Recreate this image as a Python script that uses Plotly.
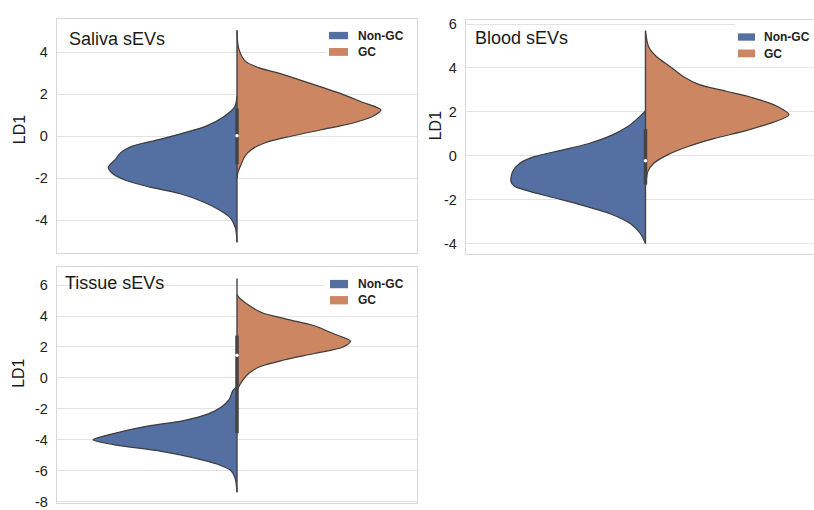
import plotly.graph_objects as go

W, H = 814, 510

# ---------------- data ----------------
groups = ["Non-GC", "GC"]
panel_titles = ["Saliva sEVs", "Blood sEVs", "Tissue sEVs"]

# Saliva sEVs : density half-widths along LD1
saliva_nongc_y = [1.9, 1.4, 0.93, 0.47, 0.16, -0.16, -0.47, -0.78, -1.09, -1.48, -1.79, -2.1, -2.41, -2.73, -3.12, -3.5, -3.89, -4.36, -5.05]
saliva_nongc_w = [0, 0.013, 0.074, 0.175, 0.295, 0.434, 0.58, 0.646, 0.674, 0.715, 0.69, 0.62, 0.49, 0.32, 0.19, 0.10, 0.037, 0.009, 0]
saliva_gc_y = [5.0, 4.2, 3.58, 3.27, 2.96, 2.65, 2.34, 2.02, 1.64, 1.25, 0.93, 0.62, 0.31, 0.0, -0.31, -0.62, -0.93, -1.32, -1.71, -2.0]
saliva_gc_w = [0, 0.009, 0.046, 0.12, 0.25, 0.36, 0.47, 0.58, 0.69, 0.80, 0.75, 0.64, 0.47, 0.30, 0.157, 0.083, 0.046, 0.024, 0.006, 0]
saliva_box = [-1.32, 1.32]
saliva_median = 0.02
saliva_whisker = [-5.05, 5.06]

# Blood sEVs
blood_nongc_y = [2.04, 1.82, 1.37, 0.93, 0.55, 0.25, -0.04, -0.34, -0.72, -1.16, -1.39, -1.61, -1.91, -2.28, -2.66, -3.1, -3.55, -4.0]
blood_nongc_w = [0, 0.028, 0.092, 0.19, 0.32, 0.47, 0.62, 0.70, 0.74, 0.75, 0.73, 0.65, 0.51, 0.34, 0.19, 0.083, 0.028, 0]
blood_gc_y = [5.7, 4.96, 4.5, 4.06, 3.61, 3.24, 2.94, 2.64, 2.27, 1.87, 1.52, 1.15, 0.78, 0.4, 0.03, -0.34, -0.72, -1.16, -1.4]
blood_gc_w = [0, 0.018, 0.064, 0.138, 0.21, 0.30, 0.45, 0.60, 0.73, 0.80, 0.71, 0.56, 0.38, 0.23, 0.12, 0.046, 0.013, 0.004, 0]
blood_box = [-1.31, 1.22]
blood_median = -0.22
blood_whisker = [-4.0, 5.7]

# Tissue sEVs
tissue_nongc_y = [-0.55, -0.84, -1.37, -1.89, -2.32, -2.74, -3.16, -3.58, -4.0, -4.32, -4.74, -5.16, -5.58, -6.0, -6.5, -7.35]
tissue_nongc_w = [0, 0.024, 0.042, 0.089, 0.16, 0.29, 0.52, 0.68, 0.80, 0.68, 0.42, 0.24, 0.107, 0.033, 0.01, 0]
tissue_gc_y = [5.4, 5.26, 4.74, 4.21, 3.79, 3.37, 2.84, 2.38, 2.0, 1.58, 1.16, 0.74, 0.32, -0.21, -0.74, -0.95]
tissue_gc_w = [0, 0.007, 0.06, 0.14, 0.28, 0.43, 0.54, 0.63, 0.59, 0.43, 0.26, 0.13, 0.068, 0.028, 0.004, 0]
tissue_box = [-3.58, 2.74]
tissue_median = 1.47
tissue_whisker = [-7.4, 6.42]

saliva_ticks = [-4, -2, 0, 2, 4]
blood_ticks = [-4, -2, 0, 2, 4, 6]
tissue_ticks = [-8, -6, -4, -2, 0, 2, 4, 6]

# ---------------- style ----------------
BLUE = "#5470a2"
ORANGE = "#cc8661"
EDGE = "#3c3c3c"
BOXC = "#444444"
GRID = "#e2e2e2"
FONT = "Arial, Liberation Sans, sans-serif"

def px(x):
    return x / W

def py(y):
    return 1 - y / H

panels = [
    dict(ax="", nongc=(saliva_nongc_y, saliva_nongc_w), gc=(saliva_gc_y, saliva_gc_w),
         box=saliva_box, med=saliva_median, wh=saliva_whisker, ticks=saliva_ticks,
         xdom=[px(57), px(417)], ydom=[py(254), py(15)], xr=[-1, 1], yr=[-5.54, 5.60],
         mirror_y=True, title_xy=(67, 36), ld_xy=(19, 129),
         leg_box=(326, 18, 417, 60), leg_pat=[(329, 28.5, 348, 36), (329, 45, 348, 53)],
         leg_txt=[(356, 32.5), (356, 49)]),
    dict(ax="2", nongc=(blood_nongc_y, blood_nongc_w), gc=(blood_gc_y, blood_gc_w),
         box=blood_box, med=blood_median, wh=blood_whisker, ticks=blood_ticks,
         xdom=[px(466), 1.0], ydom=[py(255), py(16.7)], xr=[-1, 0.939], yr=[-4.45, 6.17],
         mirror_y=False, title_xy=(473, 35), ld_xy=(435, 124),
         leg_box=(735, 18, 814, 60), leg_pat=[(738, 30, 755, 37.5), (738, 46.5, 755, 54.5)],
         leg_txt=[(762, 34), (762, 51)]),
    dict(ax="3", nongc=(tissue_nongc_y, tissue_nongc_w), gc=(tissue_gc_y, tissue_gc_w),
         box=tissue_box, med=tissue_median, wh=tissue_whisker, ticks=tissue_ticks,
         xdom=[px(57), px(417)], ydom=[0.0, py(268.3)], xr=[-1, 1], yr=[-8.08, 7.2],
         mirror_y=True, title_xy=(63, 285), ld_xy=(19, 378),
         leg_box=(324, 272, 417, 314), leg_pat=[(330, 282, 348, 290.5), (330, 298.5, 348, 307)],
         leg_txt=[(356, 286), (356, 303)]),
]

fig = go.Figure()
shapes = []
annotations = []

for i, p in enumerate(panels):
    xa = "x" + p["ax"]
    ya = "y" + p["ax"]
    ny, nw = p["nongc"]
    gy, gw = p["gc"]
    # left half (Non-GC)
    fig.add_trace(go.Scatter(x=[-w for w in nw], y=ny, xaxis=xa, yaxis=ya, mode="lines",
                             fill="toself", fillcolor=BLUE,
                             line=dict(color=EDGE, width=1.2, shape="spline", smoothing=0.8),
                             name=groups[0], showlegend=False, hoverinfo="skip"))
    # right half (GC)
    fig.add_trace(go.Scatter(x=list(gw), y=gy, xaxis=xa, yaxis=ya, mode="lines",
                             fill="toself", fillcolor=ORANGE,
                             line=dict(color=EDGE, width=1.2, shape="spline", smoothing=0.8),
                             name=groups[1], showlegend=False, hoverinfo="skip"))
    # whisker
    fig.add_trace(go.Scatter(x=[0, 0], y=p["wh"], xaxis=xa, yaxis=ya, mode="lines",
                             line=dict(color=BOXC, width=1.4), showlegend=False, hoverinfo="skip"))
    # box
    fig.add_trace(go.Scatter(x=[0, 0], y=p["box"], xaxis=xa, yaxis=ya, mode="lines",
                             line=dict(color=BOXC, width=3.5), showlegend=False, hoverinfo="skip"))
    # median
    fig.add_trace(go.Scatter(x=[0], y=[p["med"]], xaxis=xa, yaxis=ya, mode="markers",
                             marker=dict(color="white", size=3.5, line=dict(width=0)),
                             showlegend=False, hoverinfo="skip"))

    fig.layout["xaxis" + p["ax"]] = dict(showgrid=False, zeroline=False, showline=True,
                                         linecolor="#d8d8d8", linewidth=1.3, ticks="",
                                         domain=p["xdom"], range=p["xr"], anchor=ya,
                                         showticklabels=False, mirror=True, fixedrange=True)
    fig.layout["yaxis" + p["ax"]] = dict(showgrid=True, gridcolor=GRID, gridwidth=1.2,
                                         zeroline=False, showline=True, linecolor="#d8d8d8",
                                         linewidth=1.3, ticks="", mirror=p["mirror_y"],
                                         domain=p["ydom"], range=p["yr"], anchor=xa,
                                         tickvals=p["ticks"], ticktext=[str(t) for t in p["ticks"]],
                                         tickfont=dict(family=FONT, size=14.5, color="#222222"),
                                         ticklabelstandoff=5, ticklabeloverflow="allow",
                                         fixedrange=True)

    # legend (white box over grid, patches and labels)
    x0, y0, x1, y1 = p["leg_box"]
    shapes.append(dict(type="rect", xref="paper", yref="paper", x0=px(x0), x1=px(x1),
                       y0=py(y1), y1=py(y0), fillcolor="white", line=dict(width=0), layer="above"))
    for (a0, b0, a1, b1), col in zip(p["leg_pat"], [BLUE, ORANGE]):
        shapes.append(dict(type="rect", xref="paper", yref="paper", x0=px(a0), x1=px(a1),
                           y0=py(b1), y1=py(b0), fillcolor=col, line=dict(width=0), layer="above"))
    for (tx, ty), g in zip(p["leg_txt"], groups):
        annotations.append(dict(text="<b>" + g + "</b>", xref="paper", yref="paper",
                                x=px(tx), y=py(ty), xanchor="left", yanchor="middle",
                                showarrow=False, font=dict(family=FONT, size=12, color="#222222")))
    tx, ty = p["title_xy"]
    annotations.append(dict(text=panel_titles[i], xref="paper", yref="paper",
                            x=px(tx), y=py(ty), xanchor="left", yanchor="middle", showarrow=False,
                            font=dict(family=FONT, size=18, color="#1a1a1a")))
    lx, ly = p["ld_xy"]
    annotations.append(dict(text="LD1", xref="paper", yref="paper", x=px(lx), y=py(ly),
                            xanchor="center", yanchor="middle", textangle=-90, showarrow=False,
                            font=dict(family=FONT, size=16, color="#1a1a1a")))

fig.update_layout(width=W, height=H, margin=dict(l=0, r=0, t=0, b=0),
                  paper_bgcolor="white", plot_bgcolor="white",
                  shapes=shapes, annotations=annotations, showlegend=False)

fig.write_html("out.html")
